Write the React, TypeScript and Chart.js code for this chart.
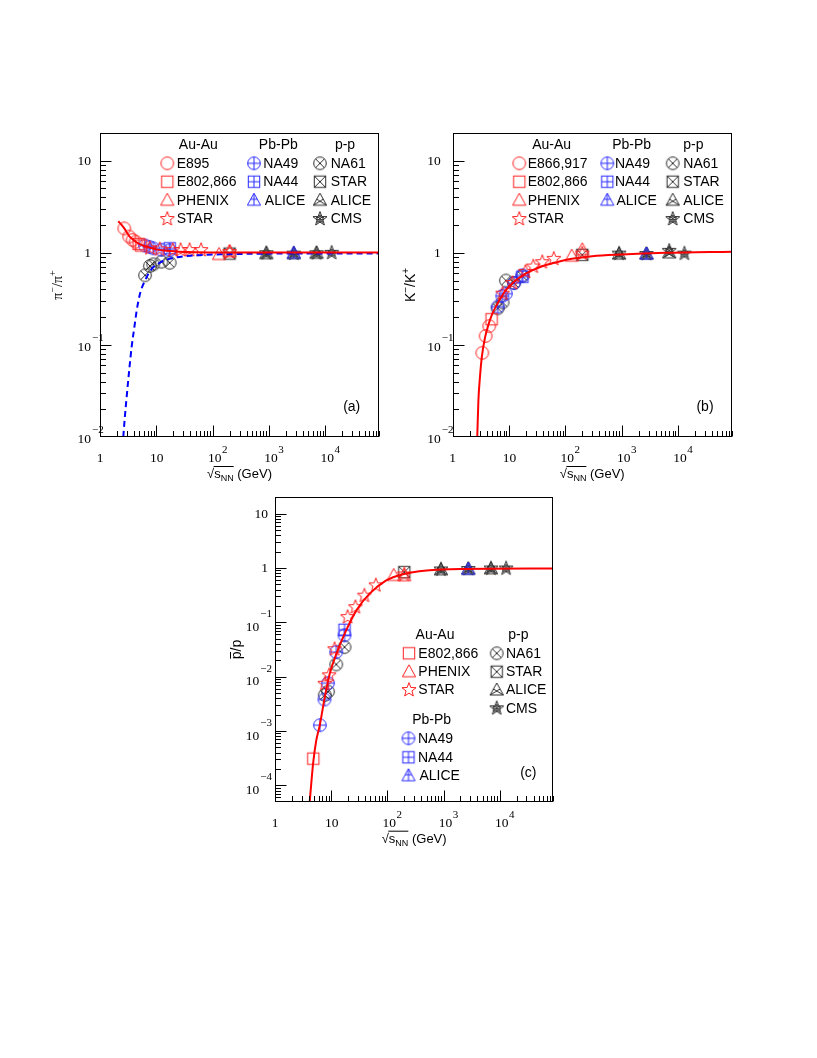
import React, { useEffect, useRef } from "react";
import { Chart, registerables } from "chart.js";

Chart.register(...registerables);

const SERIF = '"Liberation Serif", "DejaVu Serif", serif';
const SANS = '"Liberation Sans", "DejaVu Sans", sans-serif';
const RED = "rgb(255,0,0)";
const BLUE = "rgb(0,0,255)";
const M_RED = "rgb(255,30,30)";
const M_BLUE = "rgb(40,40,255)";
const M_DARK = "rgb(45,45,45)";

const X_MIN = 1;
const X_MAX = 90000;
const X_TICK_EXPS = [0, 1, 2, 3, 4];

// ---------------- Panel (a): pi-/pi+ ----------------
const A_E895_X = [2.7, 3.3, 3.8, 4.3];
const A_E895_Y = [1.84, 1.5, 1.38, 1.32];
const A_E802_X = [4.86, 5.4];
const A_E802_Y = [1.25, 1.2];
const A_PHENIX_X = [130, 200];
const A_PHENIX_Y = [0.96, 1.03];
const A_STAR_X = [7.7, 11.5, 19.6, 27, 39, 62.4, 200];
const A_STAR_Y = [1.12, 1.09, 1.07, 1.07, 1.07, 1.07, 1.02];
const A_NA49_X = [6.3, 7.6, 8.8, 12.3, 17.3];
const A_NA49_Y = [1.2, 1.16, 1.12, 1.08, 1.07];
const A_NA44_X = [17.3];
const A_NA44_Y = [1.12];
const A_ALICEPB_X = [2760];
const A_ALICEPB_Y = [0.99];
const A_NA61_X = [6.3, 7.7, 8.8, 12.3, 17.3];
const A_NA61_Y = [0.57, 0.72, 0.75, 0.8, 0.78];
const A_STARPP_X = [200];
const A_STARPP_Y = [0.98];
const A_ALICEPP_X = [900, 2760, 7000];
const A_ALICEPP_Y = [0.98, 0.98, 0.99];
const A_CMS_X = [900, 2760, 7000, 13000];
const A_CMS_Y = [0.99, 0.98, 0.99, 1.0];
const A_FIT_AA_X = [2.11, 2.4, 2.7, 3.0, 3.3, 3.8, 4.3, 5, 6, 7.5, 10, 15, 25, 50, 200, 90000];
const A_FIT_AA_Y = [2.2, 2.02, 1.84, 1.66, 1.52, 1.4, 1.32, 1.25, 1.19, 1.14, 1.09, 1.05, 1.03, 1.015, 1.01, 1.01];
const A_FIT_PP_X = [2.59, 2.75, 2.98, 3.3, 3.66, 4.1, 4.5, 5.2, 6.3, 8.3, 12, 20, 45, 180, 1000, 90000];
const A_FIT_PP_Y = [0.01, 0.016, 0.0276, 0.053, 0.097, 0.16, 0.24, 0.37, 0.5, 0.67, 0.79, 0.88, 0.935, 0.966, 0.98, 0.985];

// ---------------- Panel (b): K-/K+ ----------------
const B_E866_X = [3.35, 3.85, 4.45];
const B_E866_Y = [0.082, 0.125, 0.16];
const B_E802_X = [4.9];
const B_E802_Y = [0.19];
const B_PHENIX_X = [130, 200];
const B_PHENIX_Y = [0.92, 1.08];
const B_STAR_X = [7.7, 11.5, 19.6, 27, 39, 62.4, 200];
const B_STAR_Y = [0.36, 0.47, 0.62, 0.71, 0.79, 0.86, 0.98];
const B_NA49_X = [6.3, 7.6, 8.8, 12.3, 17.3];
const B_NA49_Y = [0.26, 0.34, 0.36, 0.47, 0.57];
const B_NA44_X = [17.3];
const B_NA44_Y = [0.55];
const B_ALICEPB_X = [2760];
const B_ALICEPB_Y = [0.97];
const B_NA61_X = [6.3, 7.7, 8.8, 12.3, 17.3];
const B_NA61_Y = [0.25, 0.29, 0.5, 0.47, 0.56];
const B_STARPP_X = [200];
const B_STARPP_Y = [0.95];
const B_ALICEPP_X = [900, 2760, 7000];
const B_ALICEPP_Y = [0.97, 0.97, 1.0];
const B_CMS_X = [900, 2760, 7000, 13000];
const B_CMS_Y = [0.98, 0.97, 1.05, 0.98];
const B_FIT_X = [2.73, 2.86, 3.05, 3.3, 3.75, 4.3, 5.0, 6.0, 7.5, 9.0, 12, 16, 25, 40, 70, 130, 300, 1000, 6000, 90000];
const B_FIT_Y = [0.01, 0.025, 0.045, 0.075, 0.12, 0.165, 0.215, 0.27, 0.34, 0.4, 0.48, 0.55, 0.64, 0.72, 0.79, 0.86, 0.92, 0.96, 1.0, 1.03];

// ---------------- Panel (c): pbar/p ----------------
const C_E802_X = [4.8];
const C_E802_Y = [3.1e-4];
const C_PHENIX_X = [130, 200];
const C_PHENIX_Y = [0.73, 0.72];
const C_STAR_X = [7.7, 9.2, 11.5, 19.6, 27, 39, 62.4, 200];
const C_STAR_Y = [7.4e-3, 0.0106, 0.032, 0.125, 0.19, 0.31, 0.48, 0.76];
const C_NA49_X = [6.3, 7.6, 8.8, 12.3, 17.3];
const C_NA49_Y = [1.28e-3, 3.8e-3, 7.6e-3, 0.0284, 0.0577];
const C_NA44_X = [17.3];
const C_NA44_Y = [0.073];
const C_ALICEPB_X = [2760];
const C_ALICEPB_Y = [0.95];
const C_NA61_X = [7.7, 8.8, 12.3, 17.3];
const C_NA61_Y = [4.6e-3, 5.3e-3, 0.0168, 0.035];
const C_STARPP_X = [200];
const C_STARPP_Y = [0.84];
const C_ALICEPP_X = [900, 2760, 7000];
const C_ALICEPP_Y = [0.93, 0.95, 0.97];
const C_CMS_X = [900, 2760, 7000, 13000];
const C_CMS_Y = [0.94, 0.96, 0.98, 0.98];
const C_FIT_X = [4.15, 4.47, 4.78, 5.4, 6.27, 7.7, 9.44, 12.4, 17.4, 28.1, 48.3, 95.5, 189, 500, 2000, 90000];
const C_FIT_Y = [5e-5, 1.23e-4, 2.6e-4, 6.5e-4, 1.28e-3, 4.2e-3, 0.0114, 0.0265, 0.062, 0.166, 0.338, 0.593, 0.77, 0.9, 0.96, 0.98];

type SeriesDef = { x: number[]; y: number[]; kind: string; color: string };
type CurveDef = { x: number[]; y: number[]; color: string; dash: number[] };
type LegendItem = { text: string; tx: number; y: number; s?: number; mx?: number; header?: boolean };
type Seg = { t: string; font: string; dy?: number; over?: boolean };

interface PanelDef {
  left: number; top: number; width: number; height: number;
  pad: { left: number; top: number; right: number; bottom: number };
  ymin: number; ymax: number; yExps: number[];
  series: SeriesDef[]; curves: CurveDef[];
  legend: LegendItem[];
  yTitle: Seg[]; yTitleX: number;
  tag: string; tagX: number; tagY: number;
  yMode: "overhang" | "inside"; yGap: number; baseDy: number; supDy: number;
}

const markerCache: Record<string, HTMLCanvasElement> = {};
function marker(kind: string, color: string): HTMLCanvasElement {
  const key = kind + "|" + color;
  if (markerCache[key]) return markerCache[key];
  const S = 20;
  const c = document.createElement("canvas");
  c.width = S;
  c.height = S;
  const g = c.getContext("2d")!;
  g.translate(S / 2, S / 2);
  g.strokeStyle = color;
  g.lineWidth = 1;
  const R = 6.3;
  const Q = 5.7;
  const seg = (x1: number, y1: number, x2: number, y2: number) => {
    g.beginPath(); g.moveTo(x1, y1); g.lineTo(x2, y2); g.stroke();
  };
  const circle = () => { g.beginPath(); g.arc(0, 0, R, 0, Math.PI * 2); g.stroke(); };
  const square = () => g.strokeRect(-Q, -Q, 2 * Q, 2 * Q);
  const TT = -7, TB = 5, TH = 6.6;
  const tri = () => {
    g.beginPath(); g.moveTo(0, TT); g.lineTo(TH, TB); g.lineTo(-TH, TB); g.closePath(); g.stroke();
  };
  const starPts = (ro: number, ri: number) => {
    const p: [number, number][] = [];
    for (let k = 0; k < 10; k++) {
      const a = -Math.PI / 2 + (k * Math.PI) / 5;
      const r = k % 2 ? ri : ro;
      p.push([r * Math.cos(a), r * Math.sin(a)]);
    }
    return p;
  };
  const star = () => {
    const p = starPts(7.4, 3.1);
    g.beginPath();
    p.forEach(([x, y], i) => (i ? g.lineTo(x, y) : g.moveTo(x, y)));
    g.closePath();
    g.stroke();
    return p;
  };
  const midX = (TH * (-1 - TT)) / (TB - TT);
  switch (kind) {
    case "circle": circle(); break;
    case "square": square(); break;
    case "triangle": tri(); break;
    case "star": star(); break;
    case "circlePlus": circle(); seg(-R, 0, R, 0); seg(0, -R, 0, R); break;
    case "squarePlus": square(); seg(-Q, 0, Q, 0); seg(0, -Q, 0, Q); break;
    case "trianglePlus": tri(); seg(0, TT, 0, TB); seg(-midX, -1, midX, -1); break;
    case "circleX": {
      circle();
      const d = R * 0.707;
      seg(-d, -d, d, d); seg(-d, d, d, -d);
      break;
    }
    case "squareX": square(); seg(-Q, -Q, Q, Q); seg(-Q, Q, Q, -Q); break;
    case "triangleX": tri(); seg(-TH, TB, midX, -1); seg(TH, TB, -midX, -1); break;
    case "starX": {
      const p = star();
      for (let k = 1; k < 10; k += 2) seg(0, 0, p[k][0], p[k][1]);
      const q = starPts(4.2, 1.8);
      g.beginPath();
      q.forEach(([x, y], i) => (i ? g.lineTo(x, y) : g.moveTo(x, y)));
      g.closePath();
      g.stroke();
      break;
    }
  }
  markerCache[key] = c;
  return c;
}

function sup(exp: number) {
  return (exp < 0 ? "\u2212" : "") + Math.abs(exp);
}

function drawSegsRotated(ctx: CanvasRenderingContext2D, cx: number, cy: number, segs: Seg[]) {
  ctx.save();
  ctx.translate(cx, cy);
  ctx.rotate(-Math.PI / 2);
  let total = 0;
  const widths = segs.map((s) => { ctx.font = s.font; const w = ctx.measureText(s.t).width; total += w; return w; });
  let x = -total / 2;
  ctx.textAlign = "left";
  ctx.textBaseline = "alphabetic";
  ctx.fillStyle = "#000";
  segs.forEach((s, i) => {
    ctx.font = s.font;
    ctx.fillText(s.t, x, 5 + (s.dy || 0));
    if (s.over) {
      ctx.strokeStyle = "#000";
      ctx.lineWidth = 1;
      ctx.beginPath();
      ctx.moveTo(x + 0.5, -5.5);
      ctx.lineTo(x + widths[i] - 0.5, -5.5);
      ctx.stroke();
    }
    x += widths[i];
  });
  ctx.restore();
}

function drawXTitle(ctx: CanvasRenderingContext2D, cx: number, y: number) {
  const f1 = `13px ${SANS}`;
  const f2 = `9px ${SANS}`;
  ctx.font = f1;
  const wr = ctx.measureText("\u221A").width;
  const ws = ctx.measureText("s").width;
  const wg = ctx.measureText(" (GeV)").width;
  ctx.font = f2;
  const wn = ctx.measureText("NN").width;
  const total = wr + ws + wn + wg;
  let x = cx - total / 2;
  ctx.fillStyle = "#000";
  ctx.textAlign = "left";
  ctx.textBaseline = "alphabetic";
  ctx.font = f1;
  ctx.fillText("\u221A", x, y);
  x += wr;
  const o0 = x - 0.5;
  ctx.fillText("s", x, y);
  x += ws;
  ctx.font = f2;
  ctx.fillText("NN", x, y + 3);
  x += wn;
  const o1 = x;
  ctx.font = f1;
  ctx.fillText(" (GeV)", x, y);
  ctx.strokeStyle = "#000";
  ctx.lineWidth = 1;
  ctx.beginPath();
  ctx.moveTo(o0, y - 11.5);
  ctx.lineTo(o1, y - 11.5);
  ctx.stroke();
}

function makePlugin(p: PanelDef) {
  return {
    id: "rootStyle",
    afterDraw(chart: any) {
      const ctx: CanvasRenderingContext2D = chart.ctx;
      const a = chart.chartArea;
      const xs = chart.scales.x;
      const ys = chart.scales.y;
      ctx.save();
      // frame
      ctx.strokeStyle = "#000";
      ctx.lineWidth = 1;
      const L = Math.round(a.left) + 0.5, T = Math.round(a.top) + 0.5;
      const Rr = Math.round(a.right) - 0.5, B = Math.round(a.bottom) - 0.5;
      ctx.strokeRect(L, T, Rr - L, B - T);
      // x ticks
      ctx.beginPath();
      for (let e = 0; e <= 4; e++) {
        for (let m = 1; m <= 9; m++) {
          const v = m * Math.pow(10, e);
          if (v <= X_MIN || v > X_MAX) continue;
          const px = Math.round(xs.getPixelForValue(v)) + 0.5;
          const len = m === 1 ? 11 : 5.5;
          ctx.moveTo(px, B);
          ctx.lineTo(px, B - len);
        }
      }
      // y ticks
      const eMin = Math.floor(Math.log10(p.ymin));
      for (let e = eMin; e <= 1; e++) {
        for (let m = 1; m <= 9; m++) {
          const v = m * Math.pow(10, e);
          if (v < p.ymin * 1.0001 || v > p.ymax) continue;
          const py = Math.round(ys.getPixelForValue(v)) + 0.5;
          const len = m === 1 ? 11 : 5.5;
          ctx.moveTo(L, py);
          ctx.lineTo(L + len, py);
        }
      }
      ctx.stroke();

      ctx.fillStyle = "#000";
      const baseFont = `13.5px ${SERIF}`;
      const supFont = `11px ${SERIF}`;
      // x labels
      X_TICK_EXPS.forEach((e) => {
        const tx = xs.getPixelForValue(Math.pow(10, e));
        const by = a.bottom + 25;
        ctx.textBaseline = "alphabetic";
        ctx.font = baseFont;
        if (e === 0) { ctx.textAlign = "center"; ctx.fillText("1", tx, by); return; }
        if (e === 1) { ctx.textAlign = "center"; ctx.fillText("10", tx + 0.5, by); return; }
        ctx.textAlign = "center";
        const w = ctx.measureText("10").width;
        ctx.fillText("10", tx + 2, by);
        ctx.font = supFont;
        ctx.textAlign = "left";
        ctx.fillText(sup(e), tx + 2 + w / 2 + 0.5, by - 9);
      });
      // y labels
      p.yExps.forEach((e) => {
        const ty = ys.getPixelForValue(Math.pow(10, e));
        ctx.textBaseline = "alphabetic";
        ctx.font = baseFont;
        ctx.textAlign = "right";
        if (e === 0 || e === 1) {
          ctx.fillText(e === 0 ? "1" : "10", a.left - p.yGap, ty + 4.5);
          return;
        }
        ctx.font = supFont;
        const ws = ctx.measureText(sup(e)).width;
        const baseRight = p.yMode === "overhang" ? a.left - p.yGap : a.left - 3 - ws - 1;
        ctx.font = baseFont;
        ctx.textAlign = "right";
        ctx.fillText("10", baseRight, ty + 4.5 + p.baseDy);
        ctx.font = supFont;
        ctx.textAlign = "left";
        ctx.fillText(sup(e), baseRight + 1, ty + 4 + p.supDy);
      });
      // titles
      drawXTitle(ctx, (a.left + a.right) / 2, a.bottom + 41);
      drawSegsRotated(ctx, p.yTitleX - p.left, (a.top + a.bottom) / 2, p.yTitle);
      // legend
      ctx.textBaseline = "middle";
      p.legend.forEach((it) => {
        ctx.font = `14px ${SANS}`;
        ctx.fillStyle = "#000";
        if (it.header) {
          ctx.textAlign = "center";
          ctx.fillText(it.text, it.tx - p.left, it.y - p.top);
          return;
        }
        const s = p.series[it.s!];
        const img = marker(s.kind, s.color);
        ctx.drawImage(img, it.mx! - p.left - img.width / 2, it.y - p.top - img.height / 2);
        ctx.textAlign = "left";
        ctx.fillText(it.text, it.tx - p.left, it.y - p.top + 0.5);
      });
      // tag
      ctx.font = `14px ${SANS}`;
      ctx.textAlign = "center";
      ctx.textBaseline = "middle";
      ctx.fillText(p.tag, p.tagX - p.left, p.tagY - p.top);
      ctx.restore();
    },
  };
}

function mkSeries(x: number[], y: number[], kind: string, color: string): SeriesDef {
  return { x, y, kind, color };
}

// series order: 0 AuAu-1, 1 AuAu-2, 2 PHENIX, 3 STAR, 4 NA49, 5 NA44, 6 ALICE PbPb, 7 NA61, 8 STAR pp, 9 ALICE pp, 10 CMS
const A_SERIES = [
  mkSeries(A_E895_X, A_E895_Y, "circle", M_RED),
  mkSeries(A_E802_X, A_E802_Y, "square", M_RED),
  mkSeries(A_PHENIX_X, A_PHENIX_Y, "triangle", M_RED),
  mkSeries(A_STAR_X, A_STAR_Y, "star", M_RED),
  mkSeries(A_NA49_X, A_NA49_Y, "circlePlus", M_BLUE),
  mkSeries(A_NA44_X, A_NA44_Y, "squarePlus", M_BLUE),
  mkSeries(A_ALICEPB_X, A_ALICEPB_Y, "trianglePlus", M_BLUE),
  mkSeries(A_NA61_X, A_NA61_Y, "circleX", M_DARK),
  mkSeries(A_STARPP_X, A_STARPP_Y, "squareX", M_DARK),
  mkSeries(A_ALICEPP_X, A_ALICEPP_Y, "triangleX", M_DARK),
  mkSeries(A_CMS_X, A_CMS_Y, "starX", M_DARK),
];
const B_SERIES = [
  mkSeries(B_E866_X, B_E866_Y, "circle", M_RED),
  mkSeries(B_E802_X, B_E802_Y, "square", M_RED),
  mkSeries(B_PHENIX_X, B_PHENIX_Y, "triangle", M_RED),
  mkSeries(B_STAR_X, B_STAR_Y, "star", M_RED),
  mkSeries(B_NA49_X, B_NA49_Y, "circlePlus", M_BLUE),
  mkSeries(B_NA44_X, B_NA44_Y, "squarePlus", M_BLUE),
  mkSeries(B_ALICEPB_X, B_ALICEPB_Y, "trianglePlus", M_BLUE),
  mkSeries(B_NA61_X, B_NA61_Y, "circleX", M_DARK),
  mkSeries(B_STARPP_X, B_STARPP_Y, "squareX", M_DARK),
  mkSeries(B_ALICEPP_X, B_ALICEPP_Y, "triangleX", M_DARK),
  mkSeries(B_CMS_X, B_CMS_Y, "starX", M_DARK),
];
const C_SERIES = [
  mkSeries([], [], "circle", M_RED),
  mkSeries(C_E802_X, C_E802_Y, "square", M_RED),
  mkSeries(C_PHENIX_X, C_PHENIX_Y, "triangle", M_RED),
  mkSeries(C_STAR_X, C_STAR_Y, "star", M_RED),
  mkSeries(C_NA49_X, C_NA49_Y, "circlePlus", M_BLUE),
  mkSeries(C_NA44_X, C_NA44_Y, "squarePlus", M_BLUE),
  mkSeries(C_ALICEPB_X, C_ALICEPB_Y, "trianglePlus", M_BLUE),
  mkSeries(C_NA61_X, C_NA61_Y, "circleX", M_DARK),
  mkSeries(C_STARPP_X, C_STARPP_Y, "squareX", M_DARK),
  mkSeries(C_ALICEPP_X, C_ALICEPP_Y, "triangleX", M_DARK),
  mkSeries(C_CMS_X, C_CMS_Y, "starX", M_DARK),
];

function topLegend(c1m: number, c1t: number, c2m: number, c2t: number, c3m: number, c3t: number, h: number[], first: string): LegendItem[] {
  const rows = [163.3, 181.7, 200.2, 219];
  return [
    { text: "Au-Au", tx: h[0], y: 145, header: true },
    { text: "Pb-Pb", tx: h[1], y: 145, header: true },
    { text: "p-p", tx: h[2], y: 145, header: true },
    { s: 0, text: first, mx: c1m, tx: c1t, y: rows[0] },
    { s: 1, text: "E802,866", mx: c1m, tx: c1t, y: rows[1] },
    { s: 2, text: "PHENIX", mx: c1m, tx: c1t, y: rows[2] },
    { s: 3, text: "STAR", mx: c1m, tx: c1t, y: rows[3] },
    { s: 4, text: "NA49", mx: c2m, tx: c2t, y: rows[0] },
    { s: 5, text: "NA44", mx: c2m, tx: c2t, y: rows[1] },
    { s: 6, text: "ALICE", mx: c2m, tx: c2t + 1.5, y: rows[2] },
    { s: 7, text: "NA61", mx: c3m, tx: c3t, y: rows[0] },
    { s: 8, text: "STAR", mx: c3m, tx: c3t, y: rows[1] },
    { s: 9, text: "ALICE", mx: c3m, tx: c3t, y: rows[2] },
    { s: 10, text: "CMS", mx: c3m, tx: c3t, y: rows[3] },
  ];
}

const PANELS: PanelDef[] = [
  {
    left: 10, top: 110, width: 380, height: 390,
    pad: { left: 90, top: 23, right: 11, bottom: 63 },
    ymin: 0.01, ymax: 20, yExps: [-2, -1, 0, 1],
    series: A_SERIES,
    curves: [
      { x: A_FIT_AA_X, y: A_FIT_AA_Y, color: RED, dash: [] },
      { x: A_FIT_PP_X, y: A_FIT_PP_Y, color: BLUE, dash: [6, 4] },
    ],
    legend: topLegend(167.3, 176.7, 254, 263.3, 320, 330.7, [198.3, 278.3, 345], "E895"),
    yTitle: [
      { t: "\u03C0", font: `14px ${SERIF}` },
      { t: "\u2212", font: `10px ${SERIF}`, dy: -6 },
      { t: "/", font: `14px ${SERIF}` },
      { t: "\u03C0", font: `14px ${SERIF}` },
      { t: "+", font: `10px ${SERIF}`, dy: -6 },
    ],
    yTitleX: 57,
    tag: "(a)", tagX: 351.7, tagY: 406.7,
    yMode: "overhang", yGap: 9, baseDy: 1.5, supDy: -8,
  },
  {
    left: 395, top: 110, width: 370, height: 390,
    pad: { left: 57.7, top: 23, right: 33.3, bottom: 63 },
    ymin: 0.01, ymax: 20, yExps: [-2, -1, 0, 1],
    series: B_SERIES,
    curves: [{ x: B_FIT_X, y: B_FIT_Y, color: RED, dash: [] }],
    legend: topLegend(519.3, 527.7, 607.3, 615, 672.7, 683.3, [551.7, 631.7, 693.3], "E866,917"),
    yTitle: [
      { t: "K", font: `14px ${SANS}` },
      { t: "\u2212", font: `10px ${SANS}`, dy: -6 },
      { t: "/K", font: `14px ${SANS}` },
      { t: "+", font: `10px ${SANS}`, dy: -6 },
    ],
    yTitleX: 410,
    tag: "(b)", tagX: 705, tagY: 406.7,
    yMode: "overhang", yGap: 12, baseDy: 1.5, supDy: -8,
  },
  {
    left: 200, top: 480, width: 380, height: 400,
    pad: { left: 75, top: 17.3, right: 26.7, bottom: 78.3 },
    ymin: 5e-5, ymax: 20, yExps: [-4, -3, -2, -1, 0, 1],
    series: C_SERIES,
    curves: [{ x: C_FIT_X, y: C_FIT_Y, color: RED, dash: [] }],
    legend: [
      { text: "Au-Au", tx: 435, y: 635, header: true },
      { text: "p-p", tx: 518.3, y: 635, header: true },
      { text: "Pb-Pb", tx: 431.7, y: 720, header: true },
      { s: 1, text: "E802,866", mx: 409, tx: 418.3, y: 653.3 },
      { s: 2, text: "PHENIX", mx: 409, tx: 418.3, y: 671.7 },
      { s: 3, text: "STAR", mx: 409, tx: 418.3, y: 690 },
      { s: 4, text: "NA49", mx: 408.5, tx: 418, y: 738.3 },
      { s: 5, text: "NA44", mx: 408.5, tx: 418, y: 757.3 },
      { s: 6, text: "ALICE", mx: 408.5, tx: 419.5, y: 775.7 },
      { s: 7, text: "NA61", mx: 496.7, tx: 506, y: 653.3 },
      { s: 8, text: "STAR", mx: 496.7, tx: 506, y: 671.7 },
      { s: 9, text: "ALICE", mx: 496.7, tx: 506, y: 690 },
      { s: 10, text: "CMS", mx: 496.7, tx: 506, y: 708.3 },
    ],
    yTitle: [
      { t: "p", font: `14px ${SANS}`, over: true },
      { t: "/p", font: `14px ${SANS}` },
    ],
    yTitleX: 236,
    tag: "(c)", tagX: 528.3, tagY: 773.3,
    yMode: "inside", yGap: 7, baseDy: 4, supDy: -9,
  },
];

function PanelChart({ p }: { p: PanelDef }) {
  const ref = useRef<HTMLCanvasElement>(null);
  useEffect(() => {
    const canvas = ref.current!;
    const datasets: any[] = [];
    p.curves.forEach((c) => {
      datasets.push({
        data: c.x.map((x, i) => ({ x, y: c.y[i] })),
        showLine: true,
        borderColor: c.color,
        borderWidth: 2,
        borderDash: c.dash,
        pointRadius: 0,
        cubicInterpolationMode: "monotone",
        fill: false,
      });
    });
    p.series.forEach((s) => {
      datasets.push({
        data: s.x.map((x, i) => ({ x, y: s.y[i] })),
        showLine: false,
        pointStyle: marker(s.kind, s.color),
        pointRadius: 6,
        borderColor: s.color,
        backgroundColor: "transparent",
      });
    });
    const chart = new Chart(canvas, {
      type: "scatter",
      data: { datasets },
      options: {
        animation: false,
        responsive: false,
        maintainAspectRatio: false,
        events: [],
        layout: { padding: p.pad },
        plugins: { legend: { display: false }, tooltip: { enabled: false }, title: { display: false } },
        scales: {
          x: { type: "logarithmic", min: X_MIN, max: X_MAX, display: false },
          y: { type: "logarithmic", min: p.ymin, max: p.ymax, display: false },
        },
      } as any,
      plugins: [makePlugin(p) as any],
    });
    return () => chart.destroy();
  }, []);
  return (
    <canvas
      ref={ref}
      width={p.width}
      height={p.height}
      style={{ position: "absolute", left: p.left, top: p.top, width: p.width, height: p.height }}
    />
  );
}

export default function App() {
  return (
    <div>
      {PANELS.map((p, i) => (
        <PanelChart key={i} p={p} />
      ))}
    </div>
  );
}
